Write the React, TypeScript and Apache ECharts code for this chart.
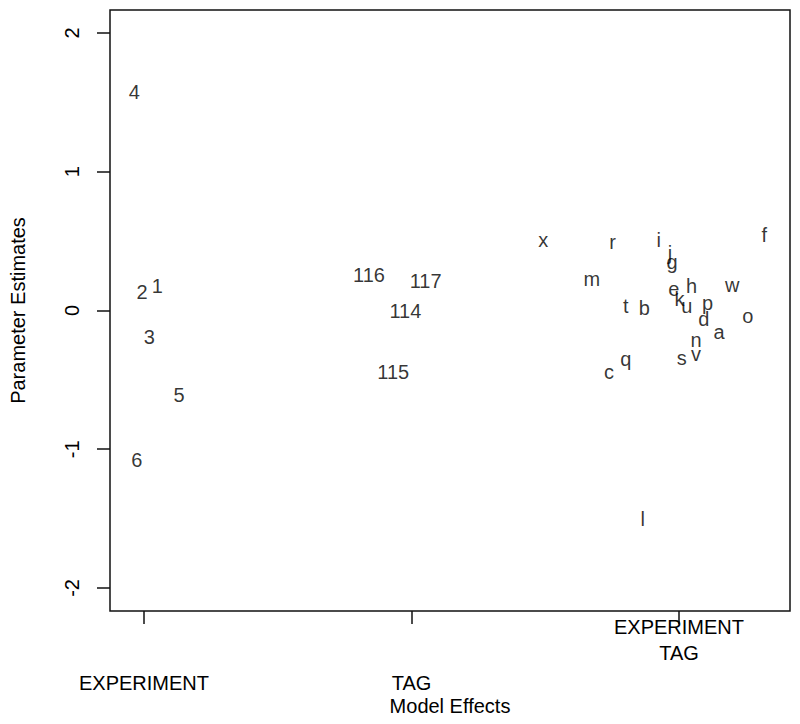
import React, { useEffect, useRef } from 'react';
import * as echarts from 'echarts';

// Y axis
const yTicks = [-2, -1, 0, 1, 2];
// X axis
const xTicks = [1, 2, 3];
const xTickLabels = ['EXPERIMENT', 'TAG', 'EXPERIMENT\nTAG'];

// EXPERIMENT effects
const expLabels = ['1', '2', '3', '4', '5', '6'];
const expX = [1.05, 0.993, 1.02, 0.964, 1.131, 0.973];
const expY = [0.18, 0.13, -0.19, 1.576, -0.61, -1.08];

// TAG effects
const tagLabels = ['114', '115', '116', '117'];
const tagX = [1.977, 1.932, 1.841, 2.053];
const tagY = [-0.005, -0.445, 0.253, 0.212];

// EXPERIMENT:TAG interaction effects
const intLabels = ['a', 'b', 'c', 'd', 'e', 'f', 'g', 'h', 'i', 'j', 'k', 'l', 'm', 'n', 'o', 'p', 'q', 'r', 's', 't', 'u', 'v', 'w', 'x'];
const intX = [3.15, 2.87, 2.738, 3.093, 2.981, 3.319, 2.974, 3.047, 2.924, 2.966, 3.002, 2.864, 2.674, 3.064, 3.257, 3.107, 2.801, 2.752, 3.01, 2.801, 3.029, 3.064, 3.199, 2.493];
const intY = [-0.155, 0.019, -0.444, -0.06, 0.152, 0.542, 0.353, 0.18, 0.51, 0.413, 0.084, -1.5, 0.225, -0.216, -0.04, 0.057, -0.35, 0.495, -0.343, 0.029, 0.032, -0.312, 0.186, 0.506];

const FONT = '"Liberation Sans", Arial, Helvetica, sans-serif';
const INK = '#000';

function makeSeries(labels: string[], xs: number[], ys: number[]) {
  return {
    type: 'scatter',
    symbol: 'circle',
    symbolSize: 1,
    itemStyle: { color: 'rgba(0,0,0,0)' },
    emphasis: { disabled: true },
    data: labels.map((l, i) => ({ name: l, value: [xs[i], ys[i]] })),
    label: {
      show: true,
      position: 'inside',
      formatter: '{b}',
      color: INK,
      fontSize: 20,
      fontFamily: FONT,
      align: 'center',
      verticalAlign: 'middle',
    },
  };
}

export default function App() {
  const ref = useRef<HTMLDivElement>(null);
  useEffect(() => {
    document.body.style.margin = '0';
    const chart = echarts.init(ref.current!, null, { renderer: 'svg' });
    const option = {
      animation: false,
      backgroundColor: '#fff',
      grid: {
        left: 110,
        right: 10,
        top: 10,
        bottom: 113,
        show: true,
        borderColor: '#111',
        borderWidth: 1.5,
        backgroundColor: 'rgba(0,0,0,0)',
        containLabel: false,
      },
      xAxis: {
        type: 'value',
        position: 'bottom',
        min: 0.873,
        max: 3.415,
        name: 'Model Effects',
        nameLocation: 'middle',
        nameGap: 85,
        nameMoveOverlap: false,
        nameTextStyle: { fontSize: 20, color: INK, fontFamily: FONT },
        axisLine: { show: false, onZero: false },
        splitLine: { show: false },
        axisTick: {
          show: true,
          length: 13,
          customValues: xTicks,
          lineStyle: { color: '#111', width: 1.5 },
        },
        axisLabel: {
          show: true,
          customValues: xTicks,
          margin: 3,
          color: INK,
          fontSize: 20,
          fontFamily: FONT,
          formatter: (v: number) => {
            const idx = xTicks.indexOf(Math.round(v));
            const lab = idx >= 0 ? xTickLabels[idx] : '';
            const lines = lab.split('\n');
            if (lines.length > 1) return lines.map((s) => '{m|' + s + '}').join('\n');
            return '{g| }\n{s|' + lab + '}';
          },
          rich: {
            m: { fontSize: 20, lineHeight: 26, color: INK, fontFamily: FONT },
            g: { fontSize: 20, lineHeight: 59, color: INK, fontFamily: FONT },
            s: { fontSize: 20, lineHeight: 20, color: INK, fontFamily: FONT },
          },
        },
      },
      yAxis: {
        type: 'value',
        position: 'left',
        min: -2.166,
        max: 2.166,
        name: 'Parameter Estimates',
        nameLocation: 'middle',
        nameGap: 82,
        nameRotate: 90,
        nameMoveOverlap: false,
        nameTextStyle: { fontSize: 20, color: INK, fontFamily: FONT },
        axisLine: { show: false, onZero: false },
        splitLine: { show: false },
        axisTick: {
          show: true,
          length: 13,
          customValues: yTicks,
          lineStyle: { color: '#111', width: 1.5 },
        },
        axisLabel: {
          show: true,
          customValues: yTicks,
          rotate: 90,
          margin: 28,
          color: INK,
          fontSize: 20,
          fontFamily: FONT,
          formatter: (v: number) => String(Math.round(v)),
        },
      },
      series: [
        makeSeries(expLabels, expX, expY),
        makeSeries(tagLabels, tagX, tagY),
        makeSeries(intLabels, intX, intY),
      ],
    };
    chart.setOption(option as any);
    return () => chart.dispose();
  }, []);
  return <div ref={ref} style={{ width: 800, height: 724, background: '#fff' }} />;
}
